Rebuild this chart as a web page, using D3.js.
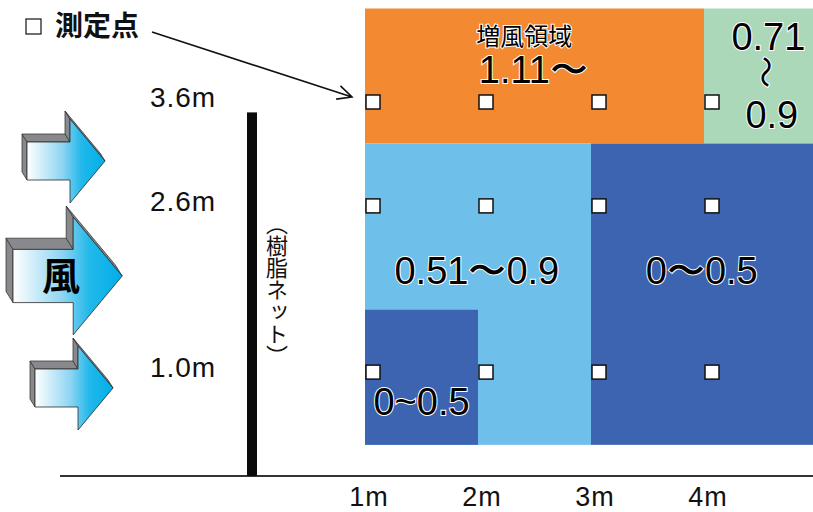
<!DOCTYPE html>
<html>
<head>
<meta charset="utf-8">
<title>樹脂ネット 風速比</title>
<script src="https://d3js.org/d3.v7.min.js"></script>
<style>
    body { margin: 0; background: #fff; }
    svg { display: block; }
</style>
</head>
<body>
<svg id="chart"></svg>
<script>
    // chart data
    var distances = [1, 2, 3, 4];
    var distanceLabels = ["1m", "2m", "3m", "4m"];
    var heights = [1.0, 2.6, 3.6];
    var heightLabels = ["1.0m", "2.6m", "3.6m"];
    var netHeight = 3.5;

    // wind-ratio zones in metres (distance x0..x1, height h0..h1)
    var zones = [
        { cls: "up",   x0: 1, x1: 4, h0: 3.2, h1: 4.5 },
        { cls: "mid2", x0: 4, x1: 5, h0: 3.2, h1: 4.5 },
        { cls: "mid",  x0: 1, x1: 3, h0: 0.3, h1: 3.2 },
        { cls: "low",  x0: 3, x1: 5, h0: 0.3, h1: 3.2 },
        { cls: "low",  x0: 1, x1: 2, h0: 0.3, h1: 1.6 }
    ];

    // zone labels, anchored in metres
    var zoneLabels = [
        { kind: "title", text: "増風領域",   x: 2.41, h: 4.15 },
        { kind: "big",   text: "1.11〜",     x: 2.49, h: 3.78 },
        { kind: "big",   text: "0.71",       x: 4.57, h: 4.10 },
        { kind: "big",   text: "0.9",        x: 4.60, h: 3.35 },
        { kind: "big",   text: "0.51〜0.9",  x: 1.99, h: 1.85 },
        { kind: "big",   text: "0〜0.5",     x: 3.98, h: 1.85 },
        { kind: "big",   text: "0~0.5",      x: 1.50, h: 0.59 }
    ];

    var zoneColors = { up: "#f38a31", mid2: "#abd8b9", mid: "#6ec0ea", low: "#3c64b1" };

    var w = 813, h = 512;

    var svg = d3.select("#chart")
        .attr("width", w)
        .attr("height", h);

    var x = d3.scaleLinear().domain([0, 4]).range([252, 704]);
    var y = d3.scaleLinear().domain([0, 3.6]).range([476, 102]);

    var numFont = "'Liberation Sans', Arial, sans-serif";
    var jpFont = "'Noto Sans CJK JP', sans-serif";

    // gradient for the wind arrows
    var defs = svg.append("defs");
    var grad = defs.append("linearGradient")
        .attr("id", "windGrad")
        .attr("x1", "0%").attr("x2", "100%")
        .attr("y1", "0%").attr("y2", "0%");
    grad.append("stop").attr("offset", "0%").attr("stop-color", "#ffffff");
    grad.append("stop").attr("offset", "45%").attr("stop-color", "#8fd5f2");
    grad.append("stop").attr("offset", "70%").attr("stop-color", "#22b8ea");
    grad.append("stop").attr("offset", "100%").attr("stop-color", "#00aee8");

    // zones
    svg.append("g").attr("id", "zones")
        .selectAll("rect")
        .data(zones)
        .enter().append("rect")
        .attr("x", function (d) { return x(d.x0); })
        .attr("y", function (d) { return y(d.h1); })
        .attr("width", function (d) { return x(d.x1) - x(d.x0); })
        .attr("height", function (d) { return y(d.h0) - y(d.h1); })
        .attr("fill", function (d) { return zoneColors[d.cls]; });

    // zone labels with white halo
    var labelSize = { title: 24, big: 38 };
    svg.append("g").attr("id", "zoneLabels")
        .selectAll("text")
        .data(zoneLabels)
        .enter().append("text")
        .attr("x", function (d) { return x(d.x); })
        .attr("y", function (d) { return y(d.h); })
        .attr("text-anchor", "middle")
        .attr("font-family", function (d) { return d.kind == "title" ? jpFont : numFont; })
        .attr("font-size", function (d) { return labelSize[d.kind]; })
        .attr("fill", "#000")
        .attr("stroke", "#fff")
        .attr("stroke-width", 2)
        .attr("paint-order", "stroke")
        .text(function (d) { return d.text; });

    // vertical wave between 0.71 and 0.9
    svg.append("text")
        .attr("transform", "translate(" + x(4.57) + "," + (y(3.6) - 30) + ") rotate(90)")
        .attr("text-anchor", "middle")
        .attr("dominant-baseline", "central")
        .attr("font-family", jpFont)
        .attr("font-size", 32)
        .attr("fill", "#000")
        .attr("stroke", "#fff")
        .attr("stroke-width", 2)
        .attr("paint-order", "stroke")
        .text("〜");

    // measuring points
    var points = [];
    distances.forEach(function (dx) {
        heights.forEach(function (hy) { points.push({ d: dx, h: hy }); });
    });
    svg.append("g").attr("id", "points")
        .selectAll("rect")
        .data(points)
        .enter().append("rect")
        .attr("x", function (d) { return x(d.d) + 1; })
        .attr("y", function (d) { return y(d.h) - 7; })
        .attr("width", 14)
        .attr("height", 14)
        .attr("fill", "#fff")
        .attr("stroke", "#111")
        .attr("stroke-width", 1.5);

    // ground line
    svg.append("line")
        .attr("x1", 60).attr("x2", w)
        .attr("y1", y(0)).attr("y2", y(0))
        .attr("stroke", "#333")
        .attr("stroke-width", 2);

    // resin net
    svg.append("rect")
        .attr("x", x(0) - 5)
        .attr("y", y(netHeight))
        .attr("width", 10)
        .attr("height", y(0) - y(netHeight))
        .attr("fill", "#0a0a0a");

    svg.append("text")
        .attr("x", x(0) + 25)
        .attr("y", 290)
        .attr("text-anchor", "middle")
        .style("writing-mode", "vertical-rl")
        .attr("font-family", jpFont)
        .attr("font-size", 22)
        .attr("fill", "#111")
        .text("（樹脂ネット）");

    // height labels
    svg.append("g").attr("id", "heightLabels")
        .selectAll("text")
        .data(heights)
        .enter().append("text")
        .attr("x", 183)
        .attr("y", function (d) { return y(d) + 5; })
        .attr("text-anchor", "middle")
        .attr("font-family", numFont)
        .attr("font-size", 28)
        .attr("letter-spacing", 1)
        .attr("fill", "#111")
        .text(function (d, i) { return heightLabels[i]; });

    // distance labels
    svg.append("g").attr("id", "distanceLabels")
        .selectAll("text")
        .data(distances)
        .enter().append("text")
        .attr("x", function (d) { return x(d) + 4; })
        .attr("y", 506)
        .attr("text-anchor", "middle")
        .attr("font-family", numFont)
        .attr("font-size", 27)
        .attr("letter-spacing", 1)
        .attr("fill", "#111")
        .text(function (d, i) { return distanceLabels[i]; });

    // legend
    svg.append("rect")
        .attr("x", 26).attr("y", 19)
        .attr("width", 15).attr("height", 15)
        .attr("fill", "#fff")
        .attr("stroke", "#111")
        .attr("stroke-width", 1.2);
    svg.append("text")
        .attr("x", 55).attr("y", 36)
        .attr("font-family", jpFont)
        .attr("font-weight", "bold")
        .attr("font-size", 28)
        .attr("fill", "#111")
        .text("測定点");

    // leader arrow to the first point
    var tip = [x(1) - 13, y(3.6) - 5];
    var start = [152, 32];
    var ang = Math.atan2(tip[1] - start[1], tip[0] - start[0]);
    var hl = 16, spread = 0.45;
    svg.append("path")
        .attr("d", "M" + start[0] + "," + start[1] + "L" + tip[0] + "," + tip[1] +
            "M" + (tip[0] - hl * Math.cos(ang - spread)) + "," + (tip[1] - hl * Math.sin(ang - spread)) +
            "L" + tip[0] + "," + tip[1] +
            "L" + (tip[0] - hl * Math.cos(ang + spread)) + "," + (tip[1] - hl * Math.sin(ang + spread)))
        .attr("fill", "none")
        .attr("stroke", "#111")
        .attr("stroke-width", 1.6);

    // wind arrows (decoration)
    var arrows = [
        { left: 27, cy: 161, s: 1 },
        { left: 13, cy: 276, s: 1.4 },
        { left: 35, cy: 388, s: 1 }
    ];

    function drawArrow(a) {
        var bw = 43 * a.s, bh = 38 * a.s, hlen = 35 * a.s, hh = 84 * a.s;
        var ox = -5 * a.s, oy = -8 * a.s;
        var x0 = a.left, cy = a.cy;
        var p = [
            [x0, cy - bh / 2],
            [x0 + bw, cy - bh / 2],
            [x0 + bw, cy - hh / 2],
            [x0 + bw + hlen, cy],
            [x0 + bw, cy + hh / 2],
            [x0 + bw, cy + bh / 2],
            [x0, cy + bh / 2]
        ];
        var g = svg.append("g").attr("class", "wind");
        // side faces: left, top, upper back, upper diagonal
        [[6, 0], [0, 1], [1, 2], [2, 3]].forEach(function (e) {
            var a1 = p[e[0]], a2 = p[e[1]];
            g.append("path")
                .attr("d", "M" + a1 + "L" + a2 + "L" + [a2[0] + ox, a2[1] + oy] + "L" + [a1[0] + ox, a1[1] + oy] + "Z")
                .attr("fill", "#88898c")
                .attr("stroke", "#3a3a3a")
                .attr("stroke-width", 0.8)
                .attr("stroke-linejoin", "round");
        });
        g.append("path")
            .attr("d", "M" + p.join("L") + "Z")
            .attr("fill", "url(#windGrad)")
            .attr("stroke", "#2a2a2a")
            .attr("stroke-width", 0.8);
    }
    arrows.forEach(drawArrow);

    svg.append("text")
        .attr("x", 61).attr("y", 290)
        .attr("text-anchor", "middle")
        .attr("font-family", jpFont)
        .attr("font-weight", "bold")
        .attr("font-size", 38)
        .attr("fill", "#000")
        .text("風");
</script>
</body>
</html>
